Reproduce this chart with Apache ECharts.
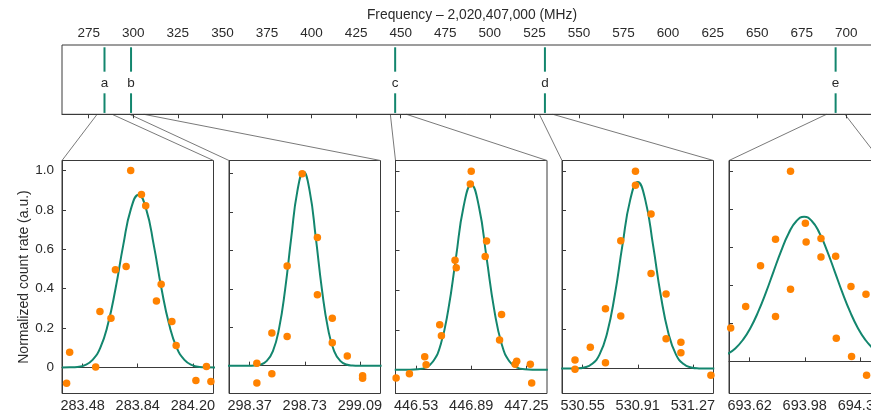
<!DOCTYPE html>
<html><head><meta charset="utf-8">
<script src="https://cdn.jsdelivr.net/npm/echarts@6/dist/echarts.min.js"></script>
<style>html,body{margin:0;padding:0;background:#fff}#c{width:871px;height:413px}</style>
</head><body><div id="c"></div>
<script>
// ---------- data ----------
const topTicks = [275,300,325,350,375,400,425,450,475,500,525,550,575,600,625,650,675,700];
const lineFreqs = [283.84, 298.73, 446.89, 530.91, 693.98];
const lineLetters = ['a','b','c','d','e'];
const zoomFromLeft = [279.7, 297.9, 444.2, 527.8, 688.9];
const zoomFromRight = [288.1, 305.9, 453.2, 535.3, 699.2];
const yTicks = [0, 0.2, 0.4, 0.6, 0.8, 1.0];

const p1Ticks = [283.48, 283.84, 284.20];
const p2Ticks = [298.37, 298.73, 299.09];
const p3Ticks = [446.53, 446.89, 447.25];
const p4Ticks = [530.55, 530.91, 531.27];
const p5Ticks = [693.62, 693.98, 694.34];

const p1XRange = [283.345, 284.335];
const p2XRange = [298.235, 299.225];
const p3XRange = [446.395, 447.385];
const p4XRange = [530.415, 531.405];
const p5XRange = [693.485, 694.475];

const p1YRange = [-0.132, 1.051];
const p2YRange = [-0.145, 1.069];
const p3YRange = [-0.120, 1.054];
const p4YRange = [-0.126, 1.054];
const p5YRange = [-0.169, 1.056];

const p1PtsX = [283.375, 283.395, 283.565, 283.593, 283.665, 283.694, 283.764, 283.794, 283.864, 283.892, 283.962, 283.993, 284.063, 284.091, 284.22, 284.289, 284.318];
const p1PtsY = [-0.08, 0.078, 0.002, 0.284, 0.25, 0.496, 0.513, 1.0, 0.878, 0.821, 0.338, 0.423, 0.234, 0.112, -0.066, 0.005, -0.071];
const p2PtsX = [298.417, 298.417, 298.515, 298.515, 298.615, 298.615, 298.713, 298.8125, 298.8125, 298.91, 298.91, 299.008, 299.108, 299.108];
const p2PtsY = [-0.09, 0.012, -0.042, 0.17, 0.152, 0.519, 1.0, 0.668, 0.37, 0.247, 0.119, 0.05, -0.052, -0.066];
const p3PtsX = [446.399, 446.486, 446.586, 446.595, 446.684, 446.695, 446.784, 446.792, 446.884, 446.89, 446.99, 446.981, 447.088, 447.075, 447.187, 447.177, 447.276, 447.285];
const p3PtsY = [-0.042, -0.02, 0.065, 0.025, 0.227, 0.171, 0.552, 0.513, 0.936, 1.0, 0.649, 0.570, 0.278, 0.149, 0.043, 0.028, 0.028, -0.067];
const p4PtsX = [530.50, 530.50, 530.60, 530.699, 530.699, 530.799, 530.799, 530.895, 530.895, 530.997, 530.997, 531.095, 531.095, 531.192, 531.192, 531.388];
const p4PtsY = [0.044, -0.003, 0.108, 0.303, 0.03, 0.647, 0.266, 1.0, 0.929, 0.783, 0.482, 0.378, 0.151, 0.134, 0.081, -0.034];
const p5PtsX = [693.496, 693.594, 693.691, 693.789, 693.789, 693.887, 693.887, 693.984, 693.989, 694.086, 694.086, 694.182, 694.186, 694.282, 694.286, 694.38, 694.384];
const p5PtsY = [0.175, 0.288, 0.503, 0.642, 0.236, 1.0, 0.379, 0.726, 0.628, 0.646, 0.548, 0.553, 0.122, 0.393, 0.026, 0.353, -0.073];

const p1FitX = [283.345, 283.395, 283.445, 283.495, 283.545, 283.595, 283.645, 283.695, 283.745, 283.795, 283.845, 283.895, 283.945, 283.995, 284.045, 284.095, 284.145, 284.195, 284.245, 284.295, 284.345];
const p1FitY = [0, 0.001, 0.003, 0.012, 0.039, 0.100, 0.219, 0.401, 0.620, 0.804, 0.877, 0.804, 0.620, 0.401, 0.219, 0.100, 0.039, 0.012, 0.003, 0.001, 0];
const p2FitX = [298.222, 298.322, 298.362, 298.402, 298.442, 298.482, 298.522, 298.562, 298.602, 298.642, 298.682, 298.722, 298.762, 298.802, 298.842, 298.882, 298.922, 298.962, 299.002, 299.042, 299.082, 299.122, 299.232];
const p2FitY = [0, 0, 0, 0.001, 0.006, 0.025, 0.076, 0.193, 0.399, 0.668, 0.911, 1.01, 0.911, 0.668, 0.399, 0.193, 0.076, 0.025, 0.006, 0.001, 0, 0, 0];
const p3FitX = [446.39, 446.44, 446.49, 446.54, 446.59, 446.64, 446.69, 446.74, 446.79, 446.84, 446.89, 446.94, 446.99, 447.04, 447.09, 447.14, 447.19, 447.24, 447.29, 447.34, 447.39];
const p3FitY = [0, 0, 0, 0.002, 0.010, 0.041, 0.126, 0.303, 0.565, 0.822, 0.932, 0.822, 0.565, 0.303, 0.126, 0.041, 0.010, 0.002, 0, 0, 0];
const p4FitX = [530.41, 530.46, 530.51, 530.56, 530.61, 530.66, 530.71, 530.76, 530.81, 530.86, 530.91, 530.96, 531.01, 531.06, 531.11, 531.16, 531.21, 531.26, 531.31, 531.36, 531.41];
const p4FitY = [0, 0, 0.001, 0.006, 0.023, 0.071, 0.181, 0.373, 0.625, 0.852, 0.945, 0.852, 0.625, 0.373, 0.181, 0.071, 0.023, 0.006, 0.001, 0, 0];
const p5FitX = [693.476, 693.526, 693.576, 693.626, 693.676, 693.726, 693.776, 693.826, 693.876, 693.926, 693.976, 694.026, 694.076, 694.126, 694.176, 694.226, 694.276, 694.326, 694.376, 694.426, 694.476];
const p5FitY = [0.039, 0.068, 0.113, 0.177, 0.261, 0.361, 0.472, 0.581, 0.675, 0.738, 0.76, 0.738, 0.675, 0.581, 0.472, 0.361, 0.261, 0.177, 0.113, 0.068, 0.039];

// ---------- layout / style ----------
const FONT = '"Liberation Sans", Arial, Helvetica, sans-serif';
const TXT = '#2a2a2a';
const AX = '#3a3a3a';
const TEAL = '#13866e';
const ORANGE = '#ff8200';
const panelLeft = [62, 229, 395.5, 562, 729];
const panelTop = 160.5, panelW = 151.5, panelH = 233;

const panels = [
  {ticks: p1Ticks, xr: p1XRange, yr: p1YRange, px: p1PtsX, py: p1PtsY, fx: p1FitX, fy: p1FitY},
  {ticks: p2Ticks, xr: p2XRange, yr: p2YRange, px: p2PtsX, py: p2PtsY, fx: p2FitX, fy: p2FitY},
  {ticks: p3Ticks, xr: p3XRange, yr: p3YRange, px: p3PtsX, py: p3PtsY, fx: p3FitX, fy: p3FitY},
  {ticks: p4Ticks, xr: p4XRange, yr: p4YRange, px: p4PtsX, py: p4PtsY, fx: p4FitX, fy: p4FitY},
  {ticks: p5Ticks, xr: p5XRange, yr: p5YRange, px: p5PtsX, py: p5PtsY, fx: p5FitX, fy: p5FitY}
];

const zip = (a, b) => a.map((v, i) => [v, b[i]]);

const grid = [{left: 62, top: 45, width: 820, height: 69.3, show: true, borderColor: AX, borderWidth: 1, backgroundColor: '#fff', outerBoundsMode: 'none', containLabel: false}];
const xAxis = [{
  gridIndex: 0, type: 'value', position: 'top', min: 260, max: 720,
  axisLine: {show: true, lineStyle: {color: AX, width: 1}},
  axisTick: {show: true, inside: true, length: 4, customValues: topTicks, lineStyle: {color: AX}},
  axisLabel: {customValues: topTicks, fontSize: 13.5, color: TXT, margin: 5, fontFamily: FONT},
  splitLine: {show: false},
  name: 'Frequency – 2,020,407,000 (MHz)', nameLocation: 'middle', nameGap: 23,
  nameTextStyle: {fontSize: 13.8, color: TXT, fontFamily: FONT}
}];
const yAxis = [{gridIndex: 0, type: 'value', min: 0, max: 1, show: false}];
const series = [{
  type: 'custom', xAxisIndex: 0, yAxisIndex: 0,
  data: lineFreqs.map((f, i) => [f, i]),
  renderItem: function (params, api) {
    const x = api.coord([api.value(0), 0])[0];
    const y = v => api.coord([api.value(0), v])[1];
    return {type: 'group', children: [
      {type: 'line', shape: {x1: x, y1: y(0.967), x2: x, y2: y(0.615)}, style: {stroke: TEAL, lineWidth: 2}},
      {type: 'line', shape: {x1: x, y1: y(0.303), x2: x, y2: y(0.02)}, style: {stroke: TEAL, lineWidth: 2}},
      {type: 'text', style: {text: lineLetters[params.dataIndex], x: x, y: y(0.45), align: 'center', verticalAlign: 'middle', fontSize: 13.5, fill: TXT, fontFamily: FONT}}
    ]};
  }
}];

panels.forEach((p, i) => {
  const gi = i + 1;
  grid.push({left: panelLeft[i], top: panelTop, width: panelW, height: panelH, show: true, borderColor: AX, borderWidth: 1, backgroundColor: '#fff', outerBoundsMode: 'none', containLabel: false});
  xAxis.push({
    gridIndex: gi, type: 'value', min: p.xr[0], max: p.xr[1],
    axisLine: {show: true, lineStyle: {color: AX}},
    axisTick: {show: true, inside: true, length: 4, customValues: p.ticks, lineStyle: {color: AX}},
    axisLabel: {customValues: p.ticks, formatter: v => Number(v).toFixed(2), fontSize: 14.5, color: TXT, margin: 5, fontFamily: FONT},
    splitLine: {show: false}
  });
  const y = {
    gridIndex: gi, type: 'value', min: p.yr[0], max: p.yr[1],
    axisLine: {show: true, lineStyle: {color: AX}},
    axisTick: {show: true, inside: true, length: 4, customValues: yTicks, lineStyle: {color: AX}},
    axisLabel: {show: i === 0, customValues: yTicks, formatter: v => (Math.abs(v) < 1e-9 ? '0' : Number(v).toFixed(1)), fontSize: 13.5, color: TXT, margin: 8, fontFamily: FONT},
    splitLine: {show: false}
  };
  if (i === 0) {
    y.name = 'Normalized count rate (a.u.)';
    y.nameLocation = 'middle';
    y.nameGap = 31;
    y.nameTextStyle = {fontSize: 14, color: TXT, fontFamily: FONT};
  }
  yAxis.push(y);
  series.push({
    type: 'line', xAxisIndex: gi, yAxisIndex: gi, data: zip(p.fx, p.fy),
    smooth: true, showSymbol: false, clip: true,
    lineStyle: {color: TEAL, width: 2}, itemStyle: {color: TEAL}, z: 2, silent: true
  });
  series.push({
    type: 'scatter', xAxisIndex: gi, yAxisIndex: gi, data: zip(p.px, p.py),
    symbolSize: 7.5, clip: true, itemStyle: {color: ORANGE, opacity: 1}, z: 3, silent: true
  });
});

const chart = echarts.init(document.getElementById('c'), null, {renderer: 'canvas'});
chart.setOption({animation: false, backgroundColor: '#fff', grid, xAxis, yAxis, series});

// connector lines from top panel to zoom panels
const graphics = [];
panels.forEach((p, i) => {
  const gi = i + 1;
  const s1 = chart.convertToPixel({xAxisIndex: 0, yAxisIndex: 0}, [zoomFromLeft[i], 0]);
  const s2 = chart.convertToPixel({xAxisIndex: 0, yAxisIndex: 0}, [zoomFromRight[i], 0]);
  const e1 = chart.convertToPixel({xAxisIndex: gi, yAxisIndex: gi}, [p.xr[0], p.yr[1]]);
  const e2 = chart.convertToPixel({xAxisIndex: gi, yAxisIndex: gi}, [p.xr[1], p.yr[1]]);
  graphics.push({type: 'line', shape: {x1: s1[0], y1: s1[1], x2: e1[0], y2: e1[1]}, style: {stroke: '#6a6a6a', lineWidth: 0.9}, silent: true});
  graphics.push({type: 'line', shape: {x1: s2[0], y1: s2[1], x2: e2[0], y2: e2[1]}, style: {stroke: '#6a6a6a', lineWidth: 0.9}, silent: true});
});
chart.setOption({graphic: graphics});
</script>
</body></html>
